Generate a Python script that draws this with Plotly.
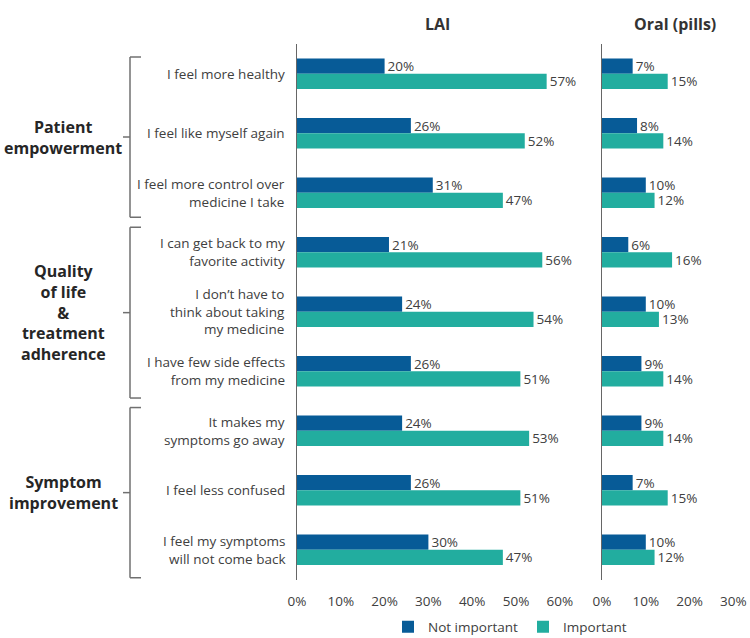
import plotly.graph_objects as go

categories = [
    "I feel more healthy",
    "I feel like myself again",
    "I feel more control over<br>medicine I take",
    "I can get back to my<br>favorite activity",
    "I don’t have to<br>think about taking<br>my medicine",
    "I have few side effects<br>from my medicine",
    "It makes my<br>symptoms go away",
    "I feel less confused",
    "I feel my symptoms<br>will not come back",
]
lai_not_important = [20, 26, 31, 21, 24, 26, 24, 26, 30]
lai_important = [57, 52, 47, 56, 54, 51, 53, 51, 47]
oral_not_important = [7, 8, 10, 6, 10, 9, 9, 7, 10]
oral_important = [15, 14, 12, 16, 13, 14, 14, 15, 12]
groups = ["Patient<br>empowerment", "Quality<br>of life<br>&<br>treatment<br>adherence", "Symptom<br>improvement"]
group_spans = [(-0.28, 2.41), (2.58, 5.45), (5.61, 8.47)]
tick_vals = [0, 10, 20, 30, 40, 50, 60]
tick_vals_oral = [0, 10, 20, 30]

BLUE = "#075b97"
TEAL = "#22ad9f"
TXT = "#404040"
FONT = "Open Sans"
W, H = 750, 638

fig = go.Figure()
idx = list(range(len(categories)))

def add(vals, color, name, xa, ya, show):
    fig.add_trace(go.Bar(
        y=idx, x=vals, orientation="h", name=name, marker=dict(color=color, line=dict(width=0)),
        text=[f"{v}%" for v in vals], textposition="outside", cliponaxis=False, constraintext="none",
        textfont=dict(size=13.5, color=TXT, family=FONT),
        xaxis=xa, yaxis=ya, showlegend=show, legendgroup=name,
    ))

add(lai_not_important, BLUE, "Not important", "x", "y", True)
add(lai_important, TEAL, "Important", "x", "y", True)
add(oral_not_important, BLUE, "Not important", "x2", "y2", False)
add(oral_important, TEAL, "Important", "x2", "y2", False)

ydom = [1 - 579.5 / H, 1 - 44 / H]
px_per = 4.38
x1a = 297 / W
x1b = (297 + 63 * px_per) / W
x2a = 602 / W
x2b = (602 + 31 * px_per) / W

yax = dict(range=[8.5, -0.5], showticklabels=False, showgrid=False, zeroline=False,
           showline=True, linecolor="#666666", linewidth=1, ticks="")
fig.update_layout(
    width=W, height=H, margin=dict(l=0, r=0, t=0, b=0, autoexpand=False),
    paper_bgcolor="white", plot_bgcolor="white",
    font=dict(family=FONT, color=TXT, size=13.5),
    barmode="group", bargap=0.49, bargroupgap=0.0,
    xaxis=dict(domain=[x1a, x1b], range=[0, 63], tickvals=tick_vals, ticktext=[f"{v}%" for v in tick_vals],
               showgrid=False, zeroline=False, showline=False, ticks="outside", ticklen=9, tickcolor="rgba(0,0,0,0)",
               tickfont=dict(size=13.5, color=TXT), anchor="y"),
    xaxis2=dict(domain=[x2a, x2b], range=[0, 31], tickvals=tick_vals_oral, ticktext=[f"{v}%" for v in tick_vals_oral],
                showgrid=False, zeroline=False, showline=False, ticks="outside", ticklen=9, tickcolor="rgba(0,0,0,0)",
                tickfont=dict(size=13.5, color=TXT), anchor="y2"),
    yaxis=dict(**yax, domain=ydom, anchor="x"),
    yaxis2=dict(**yax, domain=ydom, anchor="x2"),
    legend=dict(orientation="h", x=388 / W, xanchor="left", y=1 - 627 / H, yanchor="middle",
                font=dict(size=13.5, color=TXT), traceorder="normal"),
)

ann = []
for i, c in enumerate(categories):
    ann.append(dict(text=c, x=287 / W, xref="paper", xanchor="right", y=i, yref="y", yanchor="middle",
                    showarrow=False, align="right", font=dict(size=13.5, color=TXT)))
ann.append(dict(text="<b>LAI</b>", x=437 / W, xref="paper", xanchor="center", y=1 - 24 / H, yref="paper",
                yanchor="middle", showarrow=False, font=dict(size=16, color="#333333")))
ann.append(dict(text="<b>Oral (pills)</b>", x=675 / W, xref="paper", xanchor="center", y=1 - 24 / H, yref="paper",
                yanchor="middle", showarrow=False, font=dict(size=16, color="#333333")))

shapes = []
bx = 130 / W
for g, (a, b) in zip(groups, group_spans):
    m = (a + b) / 2
    ln = dict(color="#707070", width=1.5)
    shapes.append(dict(type="line", xref="paper", yref="y", x0=bx, x1=bx, y0=a, y1=b, line=ln))
    shapes.append(dict(type="line", xref="paper", yref="y", x0=bx, x1=141 / W, y0=a, y1=a, line=ln))
    shapes.append(dict(type="line", xref="paper", yref="y", x0=bx, x1=141 / W, y0=b, y1=b, line=ln))
    shapes.append(dict(type="line", xref="paper", yref="y", x0=123 / W, x1=bx, y0=m, y1=m, line=ln))
    ann.append(dict(text=f"<b>{g}</b>", x=63 / W, xref="paper", xanchor="center", y=m, yref="y",
                    yanchor="middle", showarrow=False, align="center", font=dict(size=16, color="#262626")))

fig.update_layout(annotations=ann, shapes=shapes)
fig.write_html("out.html", config={"displayModeBar": False},
               post_script="document.body.style.margin='0';document.body.style.padding='0';")
